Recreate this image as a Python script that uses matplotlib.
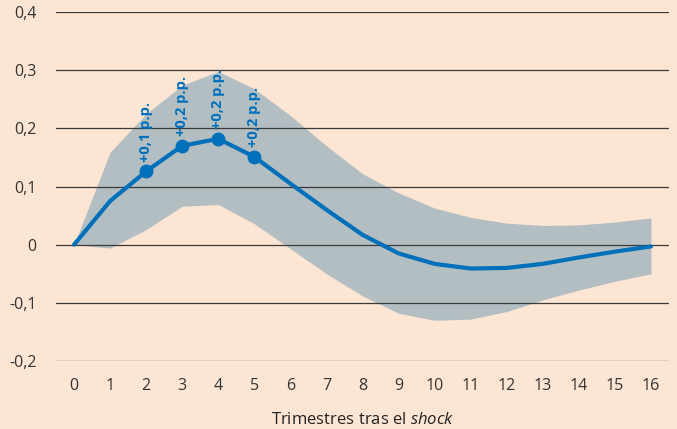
import matplotlib
matplotlib.use("Agg")
import matplotlib.pyplot as plt

plt.rcParams['font.family'] = ['Open Sans', 'DejaVu Sans']
plt.rcParams['mathtext.fontset'] = 'custom'
plt.rcParams['mathtext.rm'] = 'Open Sans'
plt.rcParams['mathtext.it'] = 'Open Sans:italic'

quarters = list(range(17))
central = [0, 0.075, 0.126, 0.170, 0.182, 0.151, 0.105, 0.060, 0.017, -0.015,
           -0.033, -0.041, -0.040, -0.033, -0.022, -0.012, -0.003]
upper = [0, 0.159, 0.225, 0.274, 0.298, 0.268, 0.222, 0.170, 0.122, 0.089,
         0.063, 0.047, 0.037, 0.033, 0.034, 0.039, 0.046]
lower = [0, -0.006, 0.026, 0.066, 0.069, 0.036, -0.007, -0.050, -0.088, -0.118,
         -0.130, -0.128, -0.115, -0.095, -0.078, -0.063, -0.050]
marked = [2, 3, 4, 5]
marked_labels = ["+0,1 p.p.", "+0,2 p.p.", "+0,2 p.p.", "+0,2 p.p."]
yticks = [-0.2, -0.1, 0, 0.1, 0.2, 0.3, 0.4]
ytick_labels = ["-0,2", "-0,1", "0", "0,1", "0,2", "0,3", "0,4"]

bg = "#FDE5D3"
blue = "#0070BA"

fig = plt.figure(figsize=(6.77, 4.29), dpi=100, facecolor=bg)
ax = fig.add_axes([56/677, 1-361/429, (669-56)/677, (361-12)/429])
ax.set_facecolor(bg)

ax.fill_between(quarters, lower, upper, color="#B3BEC3", linewidth=0, zorder=1)
for y in yticks:
    ax.axhline(y, color="#3a3a3a", linewidth=0.9, zorder=2)
ax.plot(quarters, central, color=blue, linewidth=3, zorder=3, solid_capstyle="round")
ax.plot(marked, [central[i] for i in marked], "o", color=blue, markersize=9, zorder=4)
for i, lab in zip(marked, marked_labels):
    ax.annotate(lab, (i, central[i]), xytext=(0, 7), textcoords="offset points",
                rotation=90, ha="center", va="bottom", color=blue,
                fontsize=10.5, fontweight="bold", zorder=5)

ax.set_xlim(-0.5, 16.5)
ax.set_ylim(-0.2, 0.4)
ax.set_xticks(quarters)
ax.set_yticks(yticks)
ax.set_yticklabels(ytick_labels)
ax.tick_params(length=0, labelsize=11.5, labelcolor="#333333")
ax.tick_params(axis="x", pad=12)
ax.tick_params(axis="y", pad=14)
for s in ax.spines.values():
    s.set_visible(False)
ax.set_xlabel(r"Trimestres tras el $\it{shock}$", fontsize=12, color="#222222", labelpad=13)

fig.savefig("out.png", dpi=100, facecolor=bg)
